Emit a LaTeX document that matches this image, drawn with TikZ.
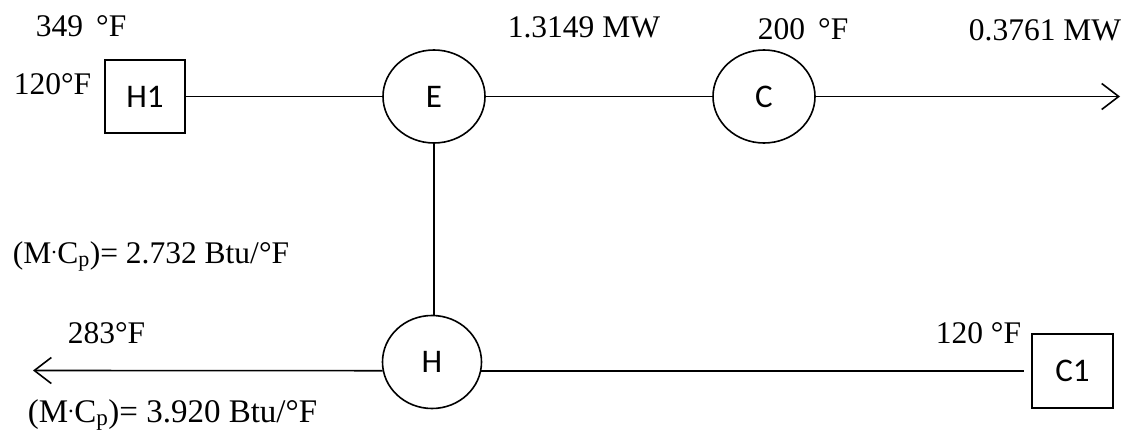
\documentclass[tikz,border=0pt]{standalone}
\usepackage{fontspec}
\setmainfont{Liberation Serif}
\newfontfamily\labelfont{Carlito}
\usetikzlibrary{arrows.meta,shapes.geometric}
\begin{document}
\begin{tikzpicture}[x=1pt,y=-1pt,
  every path/.style={line width=1.6pt},
  unitbox/.style={draw,rectangle,minimum width=80pt,minimum height=73pt,inner sep=0pt,font=\labelfont\fontsize{33}{38}\selectfont},
  unitcirc/.style={draw,ellipse,minimum width=102pt,minimum height=93pt,inner sep=0pt,font=\labelfont\fontsize{33}{38}\selectfont},
  val/.style={inner sep=0pt,font=\fontsize{31.5}{36}\selectfont},
  flow/.style={-{Straight Barb[length=17pt,width=26pt,line width=1.6pt]}}]
\useasboundingbox (0,0) rectangle (1126,430);
% units
\node[unitbox] (H1) at (145,96.5) {H1};
\node[unitcirc] (E) at (434,96.5) {E};
\node[unitcirc] (C) at (764,96.5) {C};
\node[unitcirc,minimum width=99pt] (H) at (432,362) {H};
\node[unitbox,minimum width=81pt,minimum height=74pt] (C1) at (1072.5,371) {C1};
\coordinate (outtop) at (1120,96.5);
\coordinate (outbot) at (33,370.5);
% connectors
\draw (H1.east) -- (E.west);
\draw (E.east) -- (C.west);
\draw[flow] (C.east) -- (outtop);
\draw (E.south) -- (E.south |- H.north);
\draw[shorten >=7pt] (H.-10) -- (C1.west |- H.-10);
\draw[flow] (H.190) -- (outbot);
% labels
\node[val,anchor=base west] (t1) at (35,37) {349 \,°F};
\node[val,anchor=base west] (t2) at (13,95) {120°F};
\node[val,anchor=base west] (t3) at (507,38) {1.3149 MW};
\node[val,anchor=base west] (t4) at (757,40) {200 \,°F};
\node[val,anchor=base east] (t5) at (1122,41) {0.3761 MW};
\node[val,anchor=base west] (t6) at (12,263) {(M\textsuperscript{.}C\textsubscript{p})= 2.732 Btu/°F};
\node[val,anchor=base west] (t7) at (67,343) {283°F};
\node[val,anchor=base west] (t8) at (935,343) {120 °F};
\node[val,anchor=base west,font=\fontsize{33}{38}\selectfont] (t9) at (27,422) {(M\textsuperscript{.}C\textsubscript{p})= 3.920 Btu/°F};
\end{tikzpicture}
\end{document}
